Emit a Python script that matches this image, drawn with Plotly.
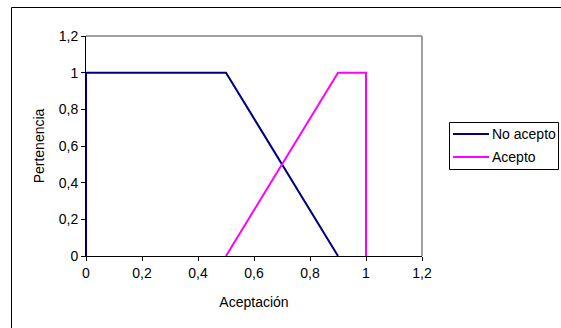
import plotly.graph_objects as go

# Data
no_acepto_x = [0, 0, 0.5, 0.9]
no_acepto_y = [0, 1, 1, 0]
acepto_x = [0.5, 0.9, 1, 1]
acepto_y = [0, 1, 1, 0]
series_names = ["No acepto", "Acepto"]
series_colors = ["#000080", "#FF00FF"]
tick_vals = [0, 0.2, 0.4, 0.6, 0.8, 1, 1.2]
tick_text = ["0", "0,2", "0,4", "0,6", "0,8", "1", "1,2"]

W, H = 561, 328
L, R, T, B = 86, 422, 36, 256  # plot area in pixels
pw, ph = R - L, B - T

def px(x):
    return (x - L) / pw

def py(y):
    return (B - y) / ph

font = dict(family="Liberation Sans, Arial, sans-serif", size=14, color="black")

fig = go.Figure()
for xs, ys, name, color in [(no_acepto_x, no_acepto_y, series_names[0], series_colors[0]),
                            (acepto_x, acepto_y, series_names[1], series_colors[1])]:
    fig.add_trace(go.Scatter(x=xs, y=ys, mode="lines", name=name, showlegend=False,
                             line=dict(color=color, width=2), cliponaxis=False))

shapes = [
    # gray top and right plot borders
    dict(type="line", xref="paper", yref="paper", x0=0, y0=1, x1=1, y1=1,
         line=dict(color="#808080", width=1.5), layer="below"),
    dict(type="line", xref="paper", yref="paper", x0=1, y0=0, x1=1, y1=1,
         line=dict(color="#808080", width=1.5), layer="below"),
    # outer chart border (clipped at right/bottom)
    dict(type="rect", xref="paper", yref="paper", x0=px(11.5), y0=py(H + 5), x1=px(W + 5), y1=py(7.5),
         line=dict(color="black", width=1), layer="below"),
    # legend box
    dict(type="rect", xref="paper", yref="paper", x0=px(449.5), y0=py(169.5), x1=px(558.5), y1=py(122.5),
         line=dict(color="black", width=1), fillcolor="white", layer="above"),
]
annotations = []
for i, (name, color) in enumerate(zip(series_names, series_colors)):
    yc = 134 + 23 * i
    shapes.append(dict(type="line", xref="paper", yref="paper", x0=px(453), x1=px(489),
                       y0=py(yc), y1=py(yc), line=dict(color=color, width=2), layer="above"))
    annotations.append(dict(text=name, xref="paper", yref="paper", x=px(490), y=py(yc),
                            xanchor="left", yanchor="middle", showarrow=False, font=font,
                            xshift=0, yshift=0))

fig.update_layout(
    width=W, height=H,
    margin=dict(l=L, r=W - R, t=T, b=H - B, autoexpand=False),
    paper_bgcolor="white", plot_bgcolor="white",
    font=font,
    showlegend=False,
    xaxis=dict(range=[0, 1.2], tickvals=tick_vals, ticktext=tick_text,
               showgrid=False, zeroline=False, showline=True, linecolor="black", linewidth=1,
               ticks="outside", ticklen=4, tickcolor="black", layer="below traces",
               title=dict(text="Aceptación", font=font, standoff=17)),
    yaxis=dict(range=[0, 1.2], tickvals=tick_vals, ticktext=tick_text,
               showgrid=False, zeroline=False, showline=True, linecolor="black", linewidth=1,
               ticks="outside", ticklen=4, tickcolor="black", layer="below traces",
               title=dict(text="Pertenencia", font=font, standoff=10)),
    shapes=shapes,
    annotations=annotations,
)

fig.write_html("out.html")
